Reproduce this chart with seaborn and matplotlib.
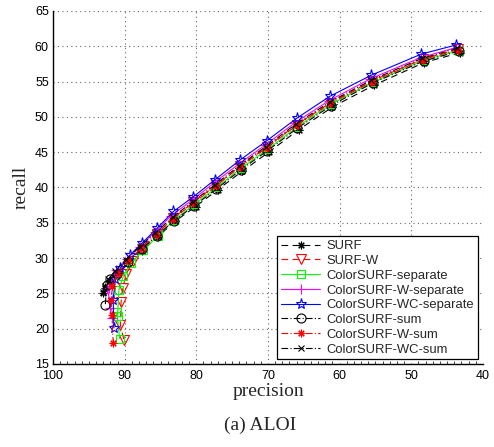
import matplotlib
matplotlib.use("Agg")
import matplotlib.pyplot as plt
import seaborn as sns
from matplotlib.ticker import MultipleLocator

# precision / recall curves
surf_p = [43.2, 48.2, 55.2, 61.0, 65.7, 69.9, 73.6, 77.0, 80.1, 83.0, 85.4, 87.6, 89.5, 91.0, 92.1, 92.8, 93.0]
surf_r = [59.1, 57.7, 54.5, 51.4, 48.2, 45.0, 42.3, 39.7, 37.3, 35.2, 33.0, 31.0, 29.3, 27.9, 26.7, 25.8, 25.0]

surfw_p = [43.5, 48.4, 55.5, 61.3, 66.0, 70.2, 73.9, 77.3, 80.4, 83.2, 85.5, 87.4, 88.8, 89.8, 90.3, 90.5, 90.6, 90.6, 90.1]
surfw_r = [59.6, 58.2, 55.1, 52.0, 48.9, 45.7, 43.0, 40.3, 37.9, 35.7, 33.4, 31.3, 29.6, 27.7, 25.7, 23.8, 21.6, 19.5, 18.4]

csep_p = [43.4, 48.3, 55.4, 61.2, 65.9, 70.1, 73.8, 77.2, 80.3, 83.1, 85.4, 87.4, 89.1, 90.2, 90.8, 91.0, 91.1, 91.0, 90.7]
csep_r = [59.4, 58.0, 54.9, 51.8, 48.6, 45.4, 42.7, 40.0, 37.6, 35.4, 33.1, 31.1, 29.3, 27.4, 25.5, 23.8, 22.3, 19.9, 18.6]

cwsep_p = [43.8, 48.7, 55.7, 61.5, 66.2, 70.4, 74.1, 77.6, 80.6, 83.5, 85.8, 87.9, 89.7, 91.2, 92.2, 92.4, 92.2, 92.0, 91.8]
cwsep_r = [59.8, 58.4, 55.4, 52.3, 49.2, 46.0, 43.3, 40.6, 38.2, 36.0, 33.7, 31.6, 29.9, 28.3, 27.0, 25.8, 24.5, 23.0, 21.5]

cwcsep_p = [43.7, 48.6, 55.6, 61.4, 66.0, 70.2, 73.9, 77.4, 80.4, 83.2, 85.5, 87.6, 89.3, 90.6, 91.3, 91.6, 91.6, 91.6, 91.5]
cwcsep_r = [60.2, 58.9, 55.9, 52.9, 49.8, 46.6, 43.9, 41.1, 38.7, 36.6, 34.2, 32.1, 30.4, 28.6, 27.0, 25.5, 24.0, 22.5, 20.1]

csum_p = [43.4, 48.3, 55.4, 61.2, 65.9, 70.1, 73.8, 77.2, 80.3, 83.1, 85.5, 87.6, 89.5, 91.1, 92.1, 92.5, 92.7]
csum_r = [59.3, 57.9, 54.8, 51.6, 48.4, 45.2, 42.5, 39.8, 37.4, 35.3, 33.2, 31.3, 29.5, 27.8, 27.0, 26.2, 23.4]

cwsum_p = [43.5, 48.4, 55.5, 61.3, 66.0, 70.2, 73.9, 77.3, 80.4, 83.2, 85.6, 87.7, 89.6, 91.0, 91.7, 91.9, 91.8, 91.8, 91.6]
cwsum_r = [59.5, 58.1, 55.0, 51.9, 48.8, 45.6, 42.9, 40.2, 37.8, 35.6, 33.4, 31.4, 29.6, 27.8, 26.0, 24.1, 22.6, 21.2, 18.0]

cwcsum_p = [43.6, 48.5, 55.6, 61.4, 66.1, 70.3, 74.0, 77.4, 80.5, 83.3, 85.7, 87.9, 89.8, 91.3, 92.3, 92.8, 93.0]
cwcsum_r = [59.7, 58.3, 55.2, 52.1, 49.0, 45.8, 43.1, 40.4, 38.0, 35.8, 33.6, 31.6, 29.8, 28.2, 27.0, 26.0, 25.2]

labels = ["SURF", "SURF-W", "ColorSURF-separate", "ColorSURF-W-separate",
          "ColorSURF-WC-separate", "ColorSURF-sum", "ColorSURF-W-sum", "ColorSURF-WC-sum"]

sns.set_style("white")
plt.rcParams["font.family"] = ["Liberation Sans", "DejaVu Sans"]

fig = plt.figure(figsize=(4.94, 4.47), dpi=100)
ax = fig.add_axes([0.1073, 0.1857, 0.8704, 0.7897])

asterisk = (8, 2, 0)
series = [
    (surf_p, surf_r, "black", (0, (6, 4)), asterisk, 5.5),
    (surfw_p, surfw_r, "red", (0, (6, 4)), "v", 6.5),
    (csep_p, csep_r, "#00ff00", "-", "s", 6),
    (cwsep_p, cwsep_r, "magenta", "-", "+", 7),
    (cwcsep_p, cwcsep_r, "blue", "-", "*", 8),
    (csum_p, csum_r, "black", (0, (6, 2, 1, 2)), "o", 6.5),
    (cwsum_p, cwsum_r, "red", (0, (6, 2, 1, 2)), asterisk, 5.5),
    (cwcsum_p, cwcsum_r, "black", (0, (6, 2, 1, 2)), "x", 5),
]

for (p, r, c, ls, m, ms), lab in zip(series, labels):
    sns.lineplot(x=p, y=r, sort=False, ax=ax, color=c, linestyle=ls, linewidth=0.8,
                 marker=m, markersize=ms, markerfacecolor="none", markeredgecolor=c,
                 markeredgewidth=0.8, label=lab)

ax.set_xlim(100, 40)
ax.set_ylim(15, 65)
ax.set_xticks(range(100, 39, -10))
ax.set_yticks(range(15, 66, 5))
ax.xaxis.set_minor_locator(MultipleLocator(1))
ax.tick_params(axis="both", which="major", direction="in", length=4, width=0.8,
               labelsize=9, colors="black", pad=3)
ax.tick_params(axis="x", which="minor", direction="in", length=2, width=0.6, bottom=True)
ax.tick_params(axis="x", which="major", pad=4)
ax.grid(True, which="major", linestyle=(0, (1, 3)), color="#666666", linewidth=0.8)

for s in ["top", "right"]:
    ax.spines[s].set_visible(False)
for s in ["left", "bottom"]:
    ax.spines[s].set_color("black")
    ax.spines[s].set_linewidth(1.0)

ax.set_xlabel("precision", family="Liberation Serif", fontsize=14, labelpad=1)
ax.set_ylabel("recall", family="Liberation Serif", fontsize=14, labelpad=4)

leg = ax.legend(loc="lower right", fontsize=9.4, frameon=True, fancybox=False,
                edgecolor="black", framealpha=1, handlelength=3.0, borderpad=0.3,
                labelspacing=0.2, handletextpad=0.5, borderaxespad=0.35)
leg.get_frame().set_linewidth(0.9)

fig.text(0.526, 0.03, "(a) ALOI", ha="center", va="bottom", family="Liberation Serif", fontsize=14)

fig.savefig("out.png", dpi=100)
